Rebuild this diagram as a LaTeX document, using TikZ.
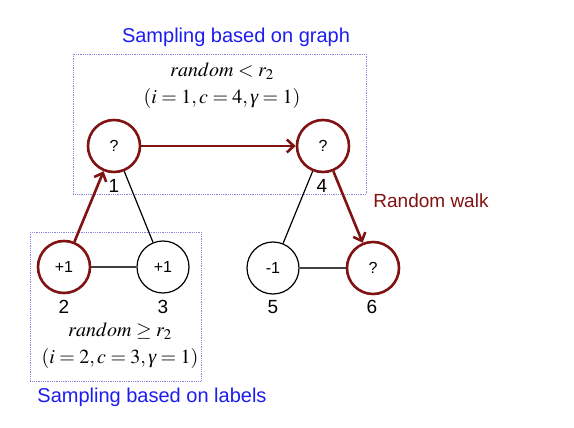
\documentclass[tikz,border=0pt]{standalone}
\usepackage{mathptmx}
\usepackage{fontspec}
\setsansfont{Liberation Sans}
\newfontfamily\greekit{Liberation Serif}
\usetikzlibrary{arrows.meta}
\definecolor{walkred}{RGB}{128,18,18}
\definecolor{labelblue}{RGB}{28,28,240}
\definecolor{boxblue}{RGB}{135,135,225}
\newcommand{\gam}{\mbox{\greekit\itshape γ}}
\begin{document}
\begin{tikzpicture}[x=1pt,y=-1pt,
        every node/.style={font=\sffamily},
        vtx/.style={circle, draw=black, line width=1.2pt, minimum size=52pt, inner sep=0pt, font=\sffamily\fontsize{16}{18}\selectfont},
        hitvtx/.style={vtx, draw=walkred, line width=2.6pt},
        num/.style={font=\sffamily\fontsize{19}{21}\selectfont},
        cond/.style={font=\fontsize{20}{27}\selectfont, align=center},
        title/.style={text=labelblue, font=\sffamily\fontsize{20}{22}\selectfont},
        samplebox/.style={draw=boxblue, densely dotted, line width=0.8pt},
        walk/.style={draw=walkred, line width=2.6pt, -{Straight Barb[length=7pt,width=13pt,line width=2.6pt]}}]
    \useasboundingbox (0,0) rectangle (574,428);

    % sampling regions
    \draw[samplebox] (73,54) rectangle (366,194);
    \draw[samplebox] (30,232) rectangle (201,381);
    \node[title] (graphtitle) at (236,37) {Sampling based on graph};
    \node[title] (labeltitle) at (152,397) {Sampling based on labels};

    \node[cond] (graphcond) at (222,86) {$random < r_2$\\$(i=1, c=4, \gam=1)$};
    \node[cond] (labelcond) at (120,346) {$random \geq r_2$\\$(i=2, c=3, \gam=1)$};

    % vertices
    \node[hitvtx] (v1) at (114,146) {?};
    \node[hitvtx] (v4) at (323,146) {?};
    \node[hitvtx] (v2) at (64,267) {+1};
    \node[vtx] (v3) at (163,267) {+1};
    \node[vtx] (v5) at (273,268) {-1};
    \node[hitvtx] (v6) at (373,268) {?};

    \node[num] (n1) at (114,186) {1};
    \node[num] (n4) at (322,186) {4};
    \node[num] (n2) at (64,307) {2};
    \node[num] (n3) at (163,307) {3};
    \node[num] (n5) at (273,307) {5};
    \node[num] (n6) at (372,307) {6};

    % edges
    \draw[line width=1.2pt] (v1) -- (v3);
    \draw[line width=1.2pt] (v4) -- (v5);
    \draw[line width=1.6pt, black!75] (v2) -- (v3);
    \draw[line width=1.6pt, black!75] (v5) -- (v6);

    % walk
    \draw[walk] (v2) -- (v1);
    \draw[walk] (v1) -- (v4);
    \draw[walk] (v4) -- (v6);
    \node[text=walkred, font=\sffamily\fontsize{19}{21}\selectfont] (walklabel) at (431,201) {Random walk};
\end{tikzpicture}
\end{document}
